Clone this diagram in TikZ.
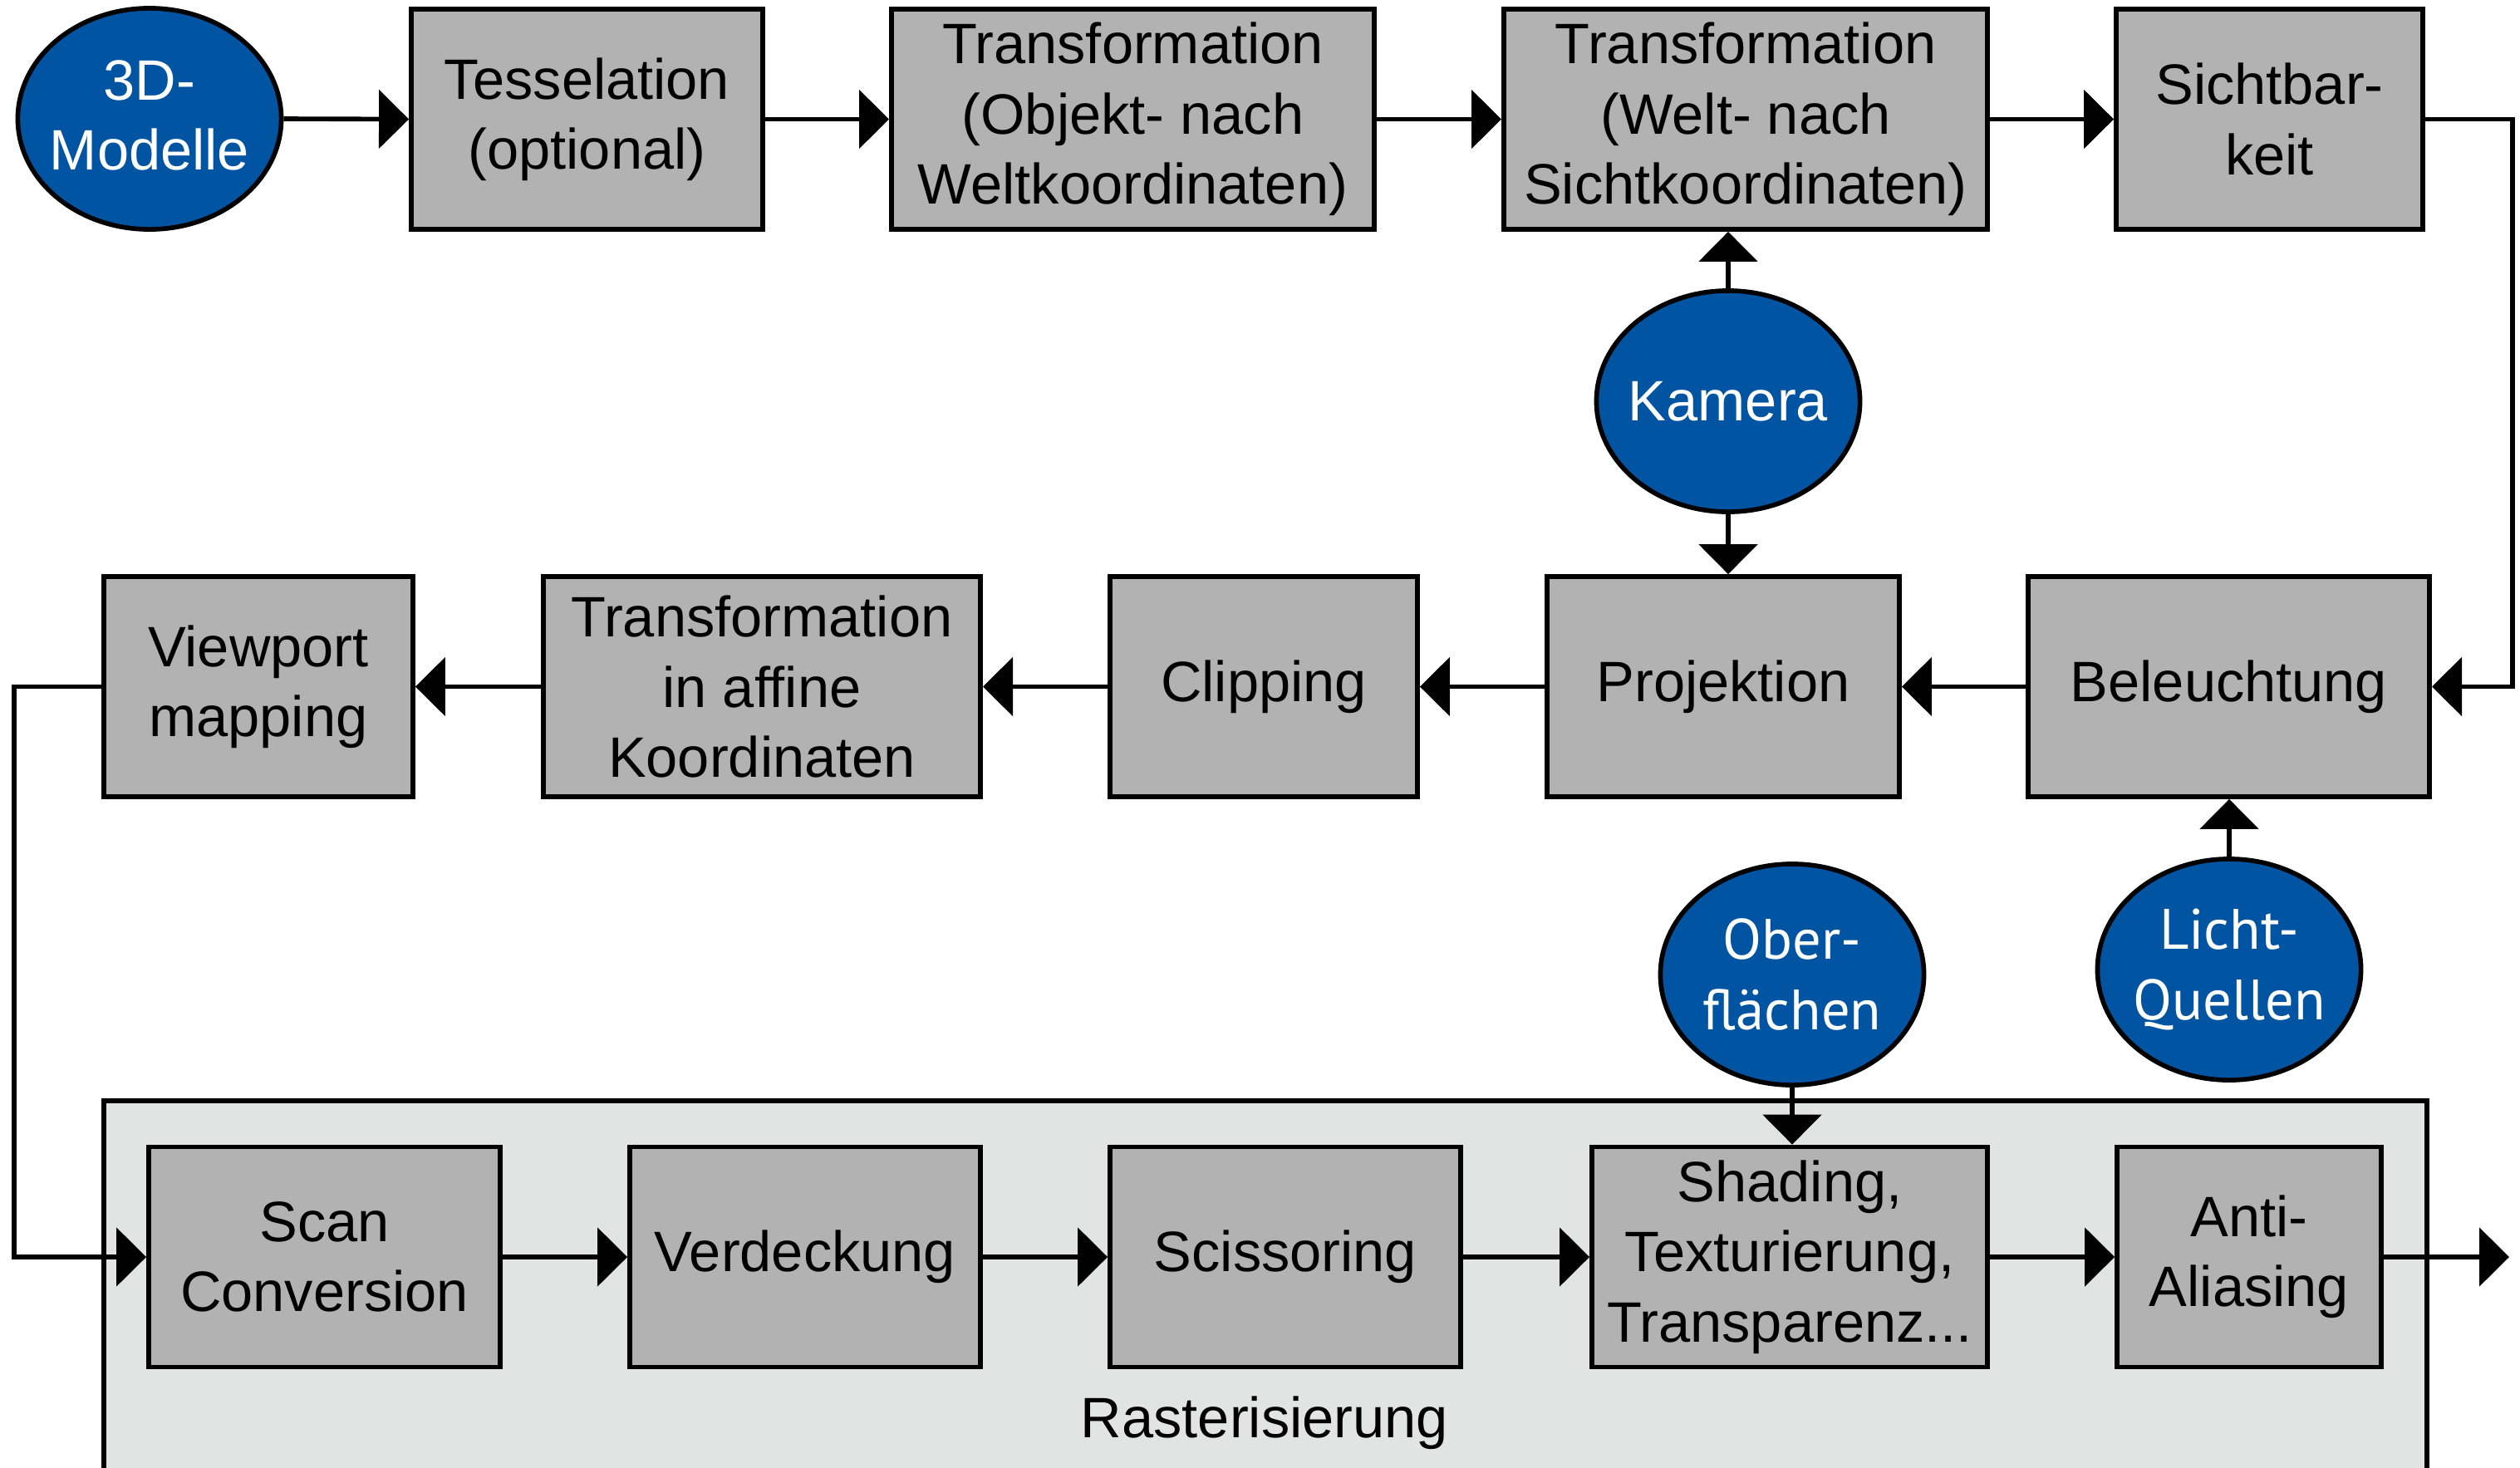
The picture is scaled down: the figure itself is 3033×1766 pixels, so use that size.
\documentclass[tikz,border=0pt]{standalone}
\usepackage{fontspec}
\setmainfont{Liberation Sans}
\newfontfamily\ovalfont{PT Sans}
\usetikzlibrary{arrows.meta,shapes.geometric}
\definecolor{ovalblue}{HTML}{0054A2}
\definecolor{boxgray}{HTML}{B2B2B2}
\definecolor{rastergray}{HTML}{E2E3E3}
\tikzset{
  every node/.style={font=\fontsize{19.5}{24}\selectfont},
  stepbox/.style={draw=black, fill=boxgray, line width=1.6pt, rectangle, inner sep=0pt, align=center, minimum height=2.65cm},
  oval/.style={draw=black, fill=ovalblue, line width=1.6pt, ellipse, inner sep=0pt, minimum width=3.17cm, minimum height=2.66cm},
  ovaltext/.style={text=white, align=center, inner sep=0pt},
  conn/.style={line width=1.6pt, -{Triangle[length=0.36cm,width=0.70cm]}},
  rasterbox/.style={draw=black, fill=rastergray, line width=1.6pt}
}
\begin{document}
\begin{tikzpicture}[x=0.01cm, y=-0.01cm]
\clip (0,0) rectangle (3033,1766);
% Rasterisierung frame
\draw[rasterbox] (125,1325) rectangle (2921,1800);
\node (rastlabel) at (1522,1713) {Rasterisierung};
% top row
\node[oval, label={[ovaltext, yshift=0.04cm]center:{3D-\\Modelle}}] (m3d) at (180,143) {};
\node[stepbox, minimum width=4.23cm] (tess) at (706.5,143.5) {Tesselation\\(optional)};
\node[stepbox, minimum width=5.81cm] (tobj) at (1363.5,143.5) {Transformation\\(Objekt- nach\\Weltkoordinaten)};
\node[stepbox, minimum width=5.82cm] (twelt) at (2101,143.5) {Transformation\\(Welt- nach\\Sichtkoordinaten)};
\node[stepbox, minimum width=3.69cm] (sicht) at (2731.5,143.5) {Sichtbar-\\keit};
% camera
\node[oval, label={[ovaltext]center:{Kamera}}] (kam) at (2080,483) {};
% middle row
\node[stepbox, minimum width=3.72cm] (viewport) at (311,826.5) {Viewport\\mapping};
\node[stepbox, minimum width=5.26cm] (taff) at (917,826.5) {Transformation\\in affine\\Koordinaten};
\node[stepbox, minimum width=3.70cm] (clip) at (1521,826.5) {Clipping};
\node[stepbox, minimum width=4.24cm] (proj) at (2074,826.5) {Projektion};
\node[stepbox, minimum width=4.83cm] (bel) at (2682.5,826.5) {Beleuchtung};
% light and surfaces
\node[oval, label={[ovaltext, font=\ovalfont\fontsize{19.5}{24}\selectfont]center:{Ober-\\flächen}}] (ober) at (2157,1173) {};
\node[oval, label={[ovaltext, font=\ovalfont\fontsize{19.5}{24}\selectfont]center:{Licht-\\Quellen}}] (licht) at (2683,1167) {};
% bottom row
\node[stepbox, minimum width=4.23cm] (scan) at (390.5,1513) {Scan\\Conversion};
\node[stepbox, minimum width=4.22cm] (verd) at (969,1513) {Verdeckung};
\node[stepbox, minimum width=4.22cm] (sciss) at (1547,1513) {Scissoring};
\node[stepbox, minimum width=4.76cm] (shad) at (2154,1513) {Shading,\\Texturierung,\\Transparenz...};
\node[stepbox, minimum width=3.18cm] (anti) at (2707,1513) {Anti-\\Aliasing};
\coordinate (outend) at (3020,1513);
% connectors
\draw[conn] (m3d.east) -- (tess.west);
\draw[conn] (tess.east) -- (tobj.west);
\draw[conn] (tobj.east) -- (twelt.west);
\draw[conn] (twelt.east) -- (sicht.west);
\draw[conn] (sicht.east) -- ++(105,0) |- (bel.east);
\draw[conn] (kam) -- (twelt.south -| kam);
\draw[conn] (kam) -- (proj.north -| kam);
\draw[conn] (bel.west) -- (proj.east);
\draw[conn] (proj.west) -- (clip.east);
\draw[conn] (clip.west) -- (taff.east);
\draw[conn] (taff.west) -- (viewport.east);
\draw[conn] (licht) -- (bel.south -| licht);
\draw[conn] (viewport.west) -- ++(-105,0) |- (scan.west);
\draw[conn] (ober) -- (shad.north -| ober);
\draw[conn] (scan.east) -- (verd.west);
\draw[conn] (verd.east) -- (sciss.west);
\draw[conn] (sciss.east) -- (shad.west);
\draw[conn] (shad.east) -- (anti.west);
\draw[conn] (anti.east) -- (outend);
\end{tikzpicture}
\end{document}
